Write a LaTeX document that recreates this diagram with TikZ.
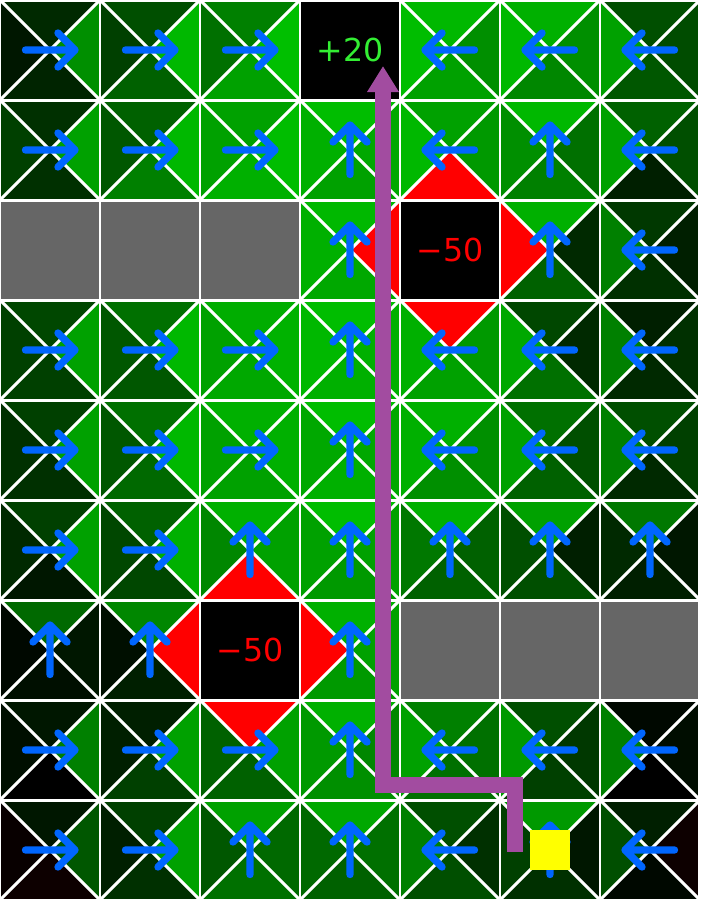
\documentclass[tikz,border=0pt]{standalone}
\usepackage{fontspec}
\setmainfont{DejaVu Sans}
\usepackage{tikz}
\usetikzlibrary{arrows.meta}
\usepackage{xcolor}
\definecolor{gwBlue}{HTML}{0066FF}
\definecolor{gwPath}{HTML}{A24CA0}
\definecolor{gwWall}{HTML}{666666}
\definecolor{gwGoal}{HTML}{33EE33}
\definecolor{gwPit}{HTML}{FF0000}
\definecolor{gwAgent}{HTML}{FFFF00}
\tikzset{
  qv/.code={\ifnum#1>99 \pgfkeysalso{fill=gwPit}\else
    \ifnum#1<0 \pgfkeysalso{fill=red!\the\numexpr-#1\relax!black}\else
    \pgfkeysalso{fill=green!#1!black}\fi\fi}
}

\begin{document}
\begin{tikzpicture}[
    gridline/.style={white,line width=0.85pt},
    qarrow/.style={gwBlue,line width=2.1pt,line cap=round,line join=round},
    wallcell/.style={fill=gwWall},
    endcell/.style={fill=black},
    goaltxt/.style={font=\fontsize{9}{9}\selectfont,text=gwGoal,inner sep=0pt},
    pittxt/.style={font=\fontsize{9}{9}\selectfont,text=gwPit,inner sep=0pt},
    route/.style={gwPath,line width=4.6pt,line join=miter,
                  -{Triangle[length=2.6mm,width=3mm]}},
    agentbox/.style={fill=gwAgent,minimum size=4mm,inner sep=0pt}]
  \useasboundingbox (0,0) rectangle (7,-9);
  % col/row/N/E/S/W/arrow angle (100 = pit neighbour)
  \foreach \c/\r/\n/\e/\s/\w/\d in {
      0/0/16/56/14/9/0, 1/0/31/72/38/25/0, 2/0/50/75/63/44/0,
      4/0/72/56/63/74/180, 5/0/69/56/53/72/180, 6/0/31/30/34/63/180,
      0/1/19/63/19/25/0, 1/1/38/72/50/34/0, 2/1/63/74/69/63/0,
      3/1/74/66/63/69/90, 4/1/63/60/100/72/180, 5/1/72/44/50/56/90,
      6/1/38/31/12/63/180,
      3/2/72/100/66/69/90, 5/2/69/16/38/100/90, 6/2/22/12/19/50/180,
      0/3/28/63/25/25/0, 1/3/44/72/34/34/0, 2/3/68/70/66/63/0,
      3/3/74/69/69/72/90, 4/3/100/60/63/69/180, 5/3/28/16/44/66/180,
      6/3/12/19/16/50/180,
      0/4/25/63/19/19/0, 1/4/44/72/41/34/0, 2/4/69/69/63/63/0,
      3/4/74/66/69/66/90, 4/4/69/56/56/69/180, 5/4/44/31/38/63/180,
      6/4/31/25/16/50/180,
      0/5/25/63/9/16/0, 1/5/38/69/28/28/0, 2/5/69/63/100/53/90,
      3/5/74/63/60/63/90, 4/5/69/38/38/47/90, 5/5/63/12/31/31/90,
      6/5/47/9/12/16/90,
      0/6/41/9/6/3/90, 1/6/53/100/12/6/90, 3/6/69/63/60/100/90,
      0/7/9/50/0/6/0, 1/7/12/63/25/12/0, 2/7/100/63/38/38/0,
      3/7/69/53/56/60/90, 4/7/50/44/44/63/180, 5/7/31/22/25/60/180,
      6/7/3/5/0/50/180,
      0/8/9/34/-5/-3/0, 1/8/25/63/19/12/0, 2/8/63/41/44/34/90,
      3/8/66/44/38/41/90, 4/8/31/19/31/50/180, 5/8/60/9/19/25/90,
      6/8/12/-5/3/31/180}{
    \fill[qv=\n] (\c,-\r) -- (\c+1,-\r) -- (\c+.5,-\r-.5) -- cycle;
    \fill[qv=\e] (\c+1,-\r) -- (\c+1,-\r-1) -- (\c+.5,-\r-.5) -- cycle;
    \fill[qv=\s] (\c+1,-\r-1) -- (\c,-\r-1) -- (\c+.5,-\r-.5) -- cycle;
    \fill[qv=\w] (\c,-\r-1) -- (\c,-\r) -- (\c+.5,-\r-.5) -- cycle;
    \draw[gridline] (\c,-\r) -- (\c+1,-\r-1) (\c+1,-\r) -- (\c,-\r-1);
    \draw[qarrow,shift={(\c+.5,-\r-.5)},rotate=\d]
      (-0.245,0) -- (0.25,0) (0.08,0.17) -- (0.25,0) -- (0.08,-0.17);
  }
  \foreach \c/\r in {0/2,1/2,2/2,4/6,5/6,6/6}
    \fill[wallcell] (\c,-\r) rectangle ++(1,-1);
  \foreach \c/\r in {3/0,4/2,2/6}
    \fill[endcell] (\c,-\r) rectangle ++(1,-1);
  \draw[gridline] (0,-9) grid (7,0);
  \node[goaltxt] (goal) at (3.5,-0.5) {+20};
  \node[pittxt] (pitA) at (4.5,-2.5) {−50};
  \node[pittxt] (pitB) at (2.5,-6.5) {−50};
  \coordinate (pathstart) at (5.15,-8.52);
  \coordinate (pathturn) at (3.83,-7.85);
  \coordinate (pathend) at (3.83,-0.66);
  \draw[route] (pathstart) |- (pathturn) -- (pathend);
  \node[agentbox] (agent) at (5.5,-8.5) {};
\end{tikzpicture}
\end{document}
